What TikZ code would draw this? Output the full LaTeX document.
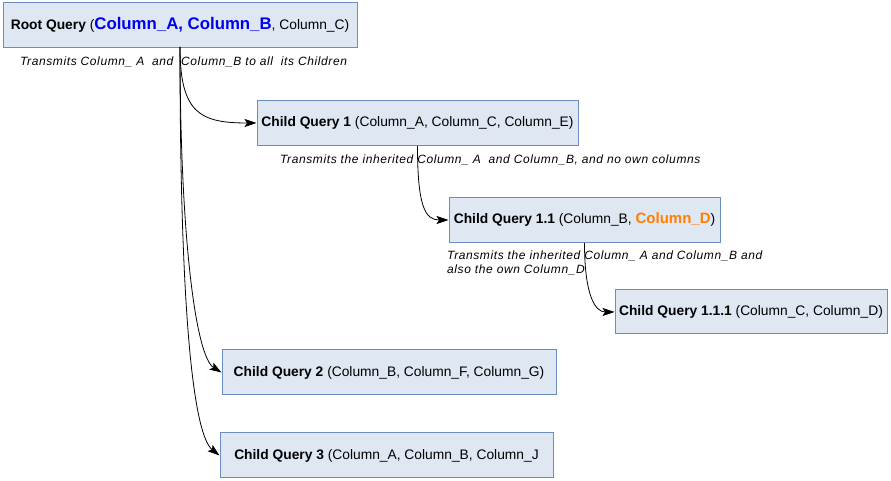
\documentclass[tikz,border=0pt]{standalone}
\usepackage{fontspec}
\setmainfont{Liberation Sans}
\usepackage{xcolor}
\usetikzlibrary{arrows.meta, positioning, calc}

\definecolor{qfill}{RGB}{222,231,242}
\definecolor{qline}{RGB}{108,142,191}
\definecolor{colblue}{RGB}{0,0,240}
\definecolor{colorange}{RGB}{255,128,0}

\begin{document}
\begin{tikzpicture}[x=1pt, y=1pt,
    query/.style={draw=qline, fill=qfill, line width=1pt, minimum height=45pt,
        inner sep=0pt, font=\fontsize{13.8}{16}\selectfont},
    note/.style={font=\fontsize{12}{14}\selectfont\itshape\addfontfeature{LetterSpace=5},
        inner sep=0pt},
    link/.style={-{Stealth[length=12pt, width=8pt, inset=2.5pt]}, line width=0.8pt}]
    \useasboundingbox (0,0) rectangle (891,481);

    % Query boxes
    \node[query, minimum width=354pt] (root) at (180,456)
        {\textbf{Root Query} (\textcolor{colblue}{\fontsize{16.8}{18}\selectfont\textbf{Column\_A, Column\_B}}, Column\_C)};
    \node[query, minimum width=321pt] (child1) at (417.5,358)
        {\textbf{Child Query 1} (Column\_A, Column\_C, Column\_E)};
    \node[query, minimum width=271pt] (child11) at (584.5,261)
        {\textbf{Child Query 1.1} (Column\_B, \textcolor{colorange}{\fontsize{15}{16}\selectfont\textbf{Column\_D}})};
    \node[query, minimum width=272pt, minimum height=44pt] (child111) at (751,169)
        {\textbf{Child Query 1.1.1} (Column\_C, Column\_D)};
    \node[query, minimum width=334pt] (child2) at (389,108.5)
        {\textbf{Child Query 2} (Column\_B, Column\_F, Column\_G)};
    \node[query, minimum width=333pt] (child3) at (386.5,25.5)
        {\textbf{Child Query 3} (Column\_A, Column\_B, Column\_J};

    % Notes
    \node[note, anchor=west] (noteroot) at (20,419)
        {Transmits Column\_ A\ \ and\ \ Column\_B to all\ \ its Children};
    \node[note, anchor=west] (notechild1) at (280,321)
        {Transmits the inherited Column\_ A\ \ and Column\_B, and no own columns};
    \node[note, anchor=north west, align=left] (notechild11) at (447,230)
        {Transmits the inherited Column\_ A and Column\_B and\\also the own Column\_D};

    % Connectors
    \coordinate (rootout) at (180,434);
    \draw[link] (rootout) .. controls (180,368) and (200,358) .. (child1.west);
    \draw[link] (rootout) .. controls (180,250) and (195,125) .. (child2.west);
    \draw[link] (rootout) .. controls (180,150) and (195,45) .. (child3.west);
    \draw[link] (child1.south) .. controls ($(child1.south)+(0,-60)$) and (425,261) .. (child11.west);
    \draw[link] (child11.south) .. controls ($(child11.south)+(0,-52)$) and (595,169) .. (child111.west);

\end{tikzpicture}
\end{document}
